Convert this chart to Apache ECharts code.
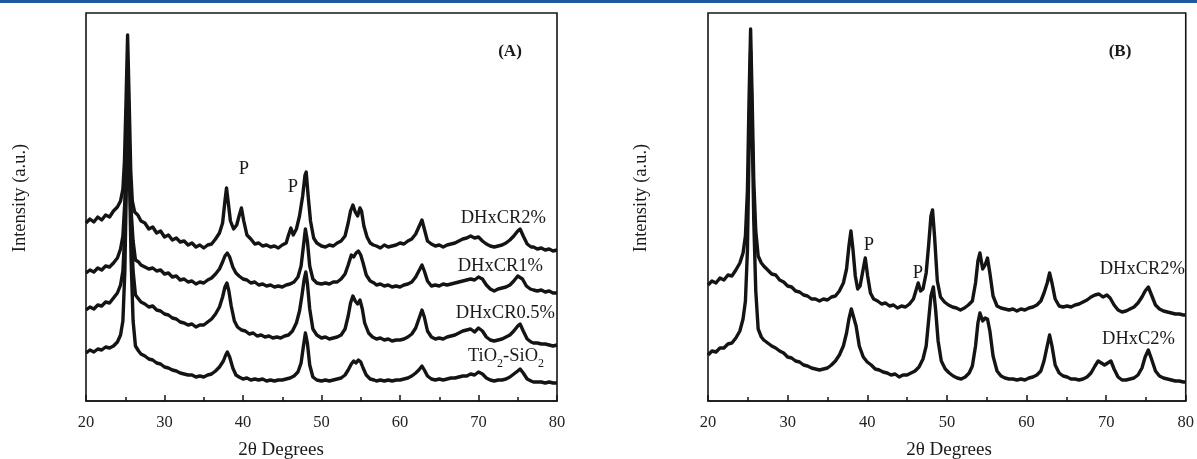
<!DOCTYPE html>
<html>
<head>
<meta charset="utf-8">
<script src="https://cdn.jsdelivr.net/npm/echarts@6/dist/echarts.min.js"></script>
<style>
html,body{margin:0;padding:0;background:#fff;}
#chart{width:1197px;height:459px;}
</style>
</head>
<body>
<div id="chart"></div>
<script>
// ---- data: [2theta (deg), intensity (a.u.)] ----
const xMin = 20, xMax = 80, xStep = 10;
const xTickLabels = [20, 30, 40, 50, 60, 70, 80];

const a_DHxCR2 = [[20,178],[20.5,182],[21,179],[21.5,184],[22,181],[22.5,186],[23,184],[23.5,190],[24,194],[24.4,200],[24.7,212],[24.9,240],[25.1,300],[25.3,366],[25.5,300],[25.7,230],[25.9,200],[26.2,189],[26.6,186],[27,180],[27.5,178],[28,172],[28.5,174],[29,168],[29.5,170],[30,164],[30.5,166],[31,161],[31.5,163],[32,159],[32.5,160],[33,156],[33.5,158],[34,154],[34.5,156],[35,153],[35.5,156],[36,157],[36.5,162],[37,168],[37.4,178],[37.7,200],[37.9,213],[38.1,200],[38.4,180],[38.8,172],[39.2,176],[39.5,185],[39.8,193],[40.1,180],[40.5,166],[41,162],[41.5,157],[42,158],[42.5,155],[43,156],[43.5,154],[44,155],[44.5,153],[45,156],[45.5,158],[45.8,166],[46.1,173],[46.4,166],[46.8,172],[47.2,185],[47.6,205],[47.9,226],[48.05,229],[48.3,205],[48.6,180],[49,163],[49.4,158],[50,155],[50.5,154],[51,156],[51.5,155],[52,158],[52.5,160],[53,165],[53.4,178],[53.7,190],[54,196],[54.3,189],[54.6,185],[54.9,193],[55.1,190],[55.4,175],[55.8,164],[56.2,158],[56.6,156],[57,155],[57.5,153],[58,156],[58.5,154],[59,155],[59.5,156],[60,158],[60.5,157],[61,160],[61.5,162],[62,167],[62.4,174],[62.8,181],[63.1,172],[63.5,160],[64,157],[64.5,155],[65,156],[65.5,154],[66,156],[66.5,157],[67,158],[67.5,160],[68,162],[68.5,163],[69,165],[69.5,163],[70,164],[70.5,160],[71,157],[71.5,155],[72,154],[72.5,155],[73,156],[73.5,158],[74,161],[74.5,165],[75,170],[75.3,172],[75.7,165],[76.2,157],[76.7,154],[77,154],[77.5,152],[78,153],[78.5,151],[79,152],[79.5,150],[80,151]];

const a_DHxCR1 = [[20,128],[20.5,131],[21,129],[21.5,133],[22,131],[22.5,135],[23,134],[23.5,138],[24,143],[24.4,152],[24.7,165],[24.95,200],[25.15,260],[25.35,300],[25.55,250],[25.75,190],[26,160],[26.3,141],[26.7,139],[27,136],[27.5,134],[28,132],[28.5,133],[29,130],[29.5,131],[30,127],[30.5,128],[31,124],[31.5,125],[32,121],[32.5,122],[33,119],[33.5,120],[34,117],[34.5,119],[35,118],[35.5,121],[36,123],[36.5,127],[37,132],[37.4,139],[37.7,145],[38,148],[38.3,144],[38.7,134],[39.1,128],[39.5,125],[40,122],[40.5,121],[41,118],[41.5,119],[42,116],[42.5,117],[43,115],[43.5,116],[44,114],[44.5,115],[45,114],[45.5,116],[46,117],[46.5,119],[47,124],[47.4,135],[47.7,155],[47.95,172],[48.2,160],[48.5,135],[48.9,122],[49.4,118],[50,117],[50.5,118],[51,117],[51.5,119],[52,119],[52.5,122],[53,127],[53.4,136],[53.8,146],[54.1,144],[54.4,148],[54.7,150],[55,146],[55.3,138],[55.7,126],[56.2,120],[56.7,118],[57,116],[57.5,117],[58,115],[58.5,116],[59,114],[59.5,115],[60,114],[60.5,116],[61,117],[61.5,119],[62,124],[62.4,130],[62.8,136],[63.1,130],[63.5,120],[64,115],[64.5,116],[65,115],[65.5,117],[66,116],[66.5,117],[67,118],[67.5,119],[68,120],[68.5,121],[69,122],[69.5,121],[70,124],[70.5,122],[71,116],[71.5,112],[72,110],[72.5,112],[73,113],[73.5,114],[74,116],[74.5,120],[75,125],[75.2,127],[75.6,122],[76.1,115],[76.6,112],[77,111],[77.5,110],[78,111],[78.5,109],[79,110],[79.5,108],[80,108]];

const a_DHxCR05 = [[20,91],[20.5,94],[21,92],[21.5,96],[22,95],[22.5,99],[23,98],[23.5,103],[24,108],[24.4,116],[24.7,130],[24.95,170],[25.15,250],[25.35,310],[25.55,240],[25.75,170],[26,130],[26.3,106],[26.7,102],[27,99],[27.5,97],[28,94],[28.5,95],[29,91],[29.5,90],[30,87],[30.5,86],[31,83],[31.5,82],[32,79],[32.5,78],[33,76],[33.5,77],[34,74],[34.5,76],[35,76],[35.5,79],[36,82],[36.5,87],[37,94],[37.4,104],[37.7,114],[37.95,118],[38.2,110],[38.5,95],[38.9,80],[39.3,74],[39.8,71],[40.3,70],[40.8,67],[41.3,68],[41.8,65],[42.3,66],[42.8,64],[43.3,65],[43.8,63],[44.3,64],[44.8,63],[45.3,65],[45.8,66],[46.3,70],[46.8,78],[47.2,90],[47.5,105],[47.8,122],[48,129],[48.2,118],[48.5,92],[48.9,72],[49.4,66],[50,63],[50.5,64],[51,62],[51.5,63],[52,64],[52.5,66],[53,72],[53.4,85],[53.7,98],[54,105],[54.3,100],[54.6,97],[54.9,101],[55.2,92],[55.5,78],[56,68],[56.5,64],[57,62],[57.5,63],[58,61],[58.5,62],[59,60],[59.5,61],[60,61],[60.5,62],[61,64],[61.5,67],[62,73],[62.4,82],[62.8,91],[63.1,84],[63.5,70],[64,64],[64.5,62],[65,63],[65.5,62],[66,64],[66.5,65],[67,66],[67.5,68],[68,70],[68.5,71],[69,72],[69.5,69],[70,73],[70.5,70],[71,64],[71.5,61],[72,60],[72.5,61],[73,62],[73.5,64],[74,66],[74.5,70],[75,75],[75.3,77],[75.7,70],[76.2,62],[76.7,59],[77,58],[77.5,58],[78,57],[78.5,57],[79,56],[79.5,55],[80,56]];

const a_TiO2SiO2 = [[20,48],[20.5,51],[21,49],[21.5,52],[22,51],[22.5,54],[23,53],[23.5,55],[24,59],[24.4,66],[24.7,80],[24.95,130],[25.15,220],[25.35,290],[25.55,220],[25.75,140],[26,80],[26.3,55],[26.7,50],[27,47],[27.5,45],[28,42],[28.5,41],[29,38],[29.5,37],[30,34],[30.5,33],[31,31],[31.5,30],[32,28],[32.5,27],[33,26],[33.5,26],[34,24],[34.5,25],[35,24],[35.5,26],[36,27],[36.5,30],[37,34],[37.5,40],[37.8,46],[38,49],[38.3,44],[38.7,33],[39.1,26],[39.5,24],[40,22],[40.5,23],[41,21],[41.5,22],[42,21],[42.5,22],[43,20],[43.5,21],[44,20],[44.5,21],[45,21],[45.5,22],[46,23],[46.5,25],[47,29],[47.4,38],[47.7,55],[47.95,68],[48.2,58],[48.5,36],[48.9,24],[49.4,21],[50,20],[50.5,21],[51,20],[51.5,21],[52,22],[52.5,23],[53,26],[53.4,31],[53.8,37],[54.1,40],[54.4,38],[54.7,41],[55,39],[55.3,33],[55.7,26],[56.2,22],[56.7,21],[57,20],[57.5,21],[58,20],[58.5,21],[59,20],[59.5,21],[60,21],[60.5,22],[61,23],[61.5,25],[62,28],[62.4,31],[62.8,35],[63.1,31],[63.5,25],[64,22],[64.5,21],[65,22],[65.5,21],[66,22],[66.5,23],[67,23],[67.5,24],[68,25],[68.5,25],[69,27],[69.5,26],[70,29],[70.5,27],[71,23],[71.5,21],[72,20],[72.5,21],[73,21],[73.5,22],[74,24],[74.5,27],[75,30],[75.3,32],[75.7,28],[76.2,22],[76.7,20],[77,19],[77.5,19],[78,19],[78.5,18],[79,19],[79.5,18],[80,18]];

const b_DHxCR2 = [[20,116],[20.5,120],[21,118],[21.5,123],[22,121],[22.5,126],[23,125],[23.5,131],[24,138],[24.4,148],[24.7,165],[24.95,210],[25.15,300],[25.35,372],[25.55,300],[25.75,220],[26,170],[26.3,145],[26.7,138],[27,135],[27.5,131],[28,127],[28.5,126],[29,121],[29.5,119],[30,115],[30.5,114],[31,110],[31.5,109],[32,106],[32.5,105],[33,102],[33.5,102],[34,100],[34.5,102],[35,101],[35.5,104],[36,105],[36.5,110],[37,118],[37.4,132],[37.7,155],[37.95,170],[38.2,152],[38.5,125],[38.8,112],[39.1,115],[39.4,128],[39.75,143],[40.05,125],[40.4,108],[40.8,102],[41.3,100],[41.8,97],[42.3,98],[42.8,95],[43.3,96],[43.8,93],[44.3,95],[44.8,94],[45.3,97],[45.8,102],[46.1,110],[46.4,118],[46.7,110],[47,112],[47.4,128],[47.7,155],[48,185],[48.2,191],[48.45,165],[48.8,120],[49.2,104],[49.7,99],[50.2,96],[50.7,94],[51.2,93],[51.7,91],[52.2,93],[52.7,96],[53.2,100],[53.6,118],[53.9,140],[54.15,148],[54.5,132],[54.8,136],[55.1,143],[55.4,128],[55.8,105],[56.3,95],[56.8,93],[57.3,92],[57.8,91],[58.3,92],[58.8,90],[59.3,92],[59.8,91],[60.3,93],[60.8,94],[61.3,96],[61.8,100],[62.2,108],[62.6,118],[62.9,128],[63.2,118],[63.6,102],[64.1,95],[64.6,94],[65.1,95],[65.6,94],[66.1,96],[66.6,97],[67.1,99],[67.6,101],[68.1,104],[68.6,106],[69.1,107],[69.6,104],[70.1,106],[70.5,103],[71,96],[71.5,91],[72,89],[72.5,90],[73,92],[73.5,94],[74,98],[74.5,104],[74.9,110],[75.3,114],[75.7,106],[76.2,96],[76.7,92],[77.2,90],[77.7,89],[78.2,88],[78.7,87],[79.2,87],[79.7,86],[80,86]];

const b_DHxC2 = [[20,46],[20.5,50],[21,49],[21.5,53],[22,53],[22.5,57],[23,58],[23.5,63],[24,70],[24.4,82],[24.7,100],[24.95,150],[25.15,250],[25.35,350],[25.55,270],[25.75,180],[26,110],[26.3,72],[26.7,64],[27,61],[27.5,58],[28,55],[28.5,53],[29,50],[29.5,48],[30,44],[30.5,43],[31,40],[31.5,39],[32,36],[32.5,35],[33,33],[33.5,32],[34,31],[34.5,32],[35,33],[35.5,36],[36,40],[36.5,46],[37,55],[37.4,68],[37.7,82],[38,92],[38.25,94],[38.6,75],[39,55],[39.5,44],[40,39],[40.5,36],[41,32],[41.5,31],[42,29],[42.5,28],[43,26],[43.5,27],[44,24],[44.5,26],[45,26],[45.5,28],[46,30],[46.5,34],[47,42],[47.4,55],[47.7,80],[48,105],[48.3,114],[48.6,90],[48.9,60],[49.3,40],[49.8,32],[50.3,28],[50.8,25],[51.3,23],[51.8,22],[52.3,24],[52.8,28],[53.2,35],[53.6,55],[53.9,78],[54.15,88],[54.5,80],[54.8,83],[55.1,82],[55.4,70],[55.8,45],[56.3,30],[56.8,25],[57.3,23],[57.8,22],[58.3,22],[58.8,21],[59.3,22],[59.8,21],[60.3,23],[60.8,24],[61.3,26],[61.8,30],[62.2,40],[62.6,55],[62.9,66],[63.2,55],[63.6,36],[64.1,28],[64.6,25],[65.1,24],[65.6,22],[66.1,22],[66.6,21],[67.1,22],[67.6,24],[68.1,28],[68.6,35],[69,40],[69.4,38],[69.8,36],[70.2,38],[70.6,40],[71,32],[71.5,24],[72,21],[72.5,21],[73,22],[73.5,23],[74,26],[74.5,33],[74.9,44],[75.3,51],[75.7,42],[76.2,30],[76.7,25],[77.2,23],[77.7,22],[78.2,21],[78.7,20],[79.2,20],[79.7,19],[80,19]];

const seriesA = [a_DHxCR2, a_DHxCR1, a_DHxCR05, a_TiO2SiO2];
const seriesB = [b_DHxCR2, b_DHxC2];
const namesA = ['DHxCR2%', 'DHxCR1%', 'DHxCR0.5%', 'TiO2-SiO2'];
const namesB = ['DHxCR2%', 'DHxC2%'];

// ---- chart ----
const SERIF = '"Liberation Serif","Times New Roman",serif';
const INK = '#141414';
const LBL = 18.5;
const chart = echarts.init(document.getElementById('chart'), null, {renderer: 'canvas'});

function xAxisCfg(gi) {
  return {
    type: 'value', gridIndex: gi, min: xMin, max: xMax, interval: xStep,
    axisLine: {show: true, onZero: false, lineStyle: {color: INK, width: 1.6}},
    axisTick: {show: true, inside: true, length: 6, lineStyle: {color: INK, width: 1.5}},
    minorTick: {show: true, splitNumber: 2, length: 4, lineStyle: {color: INK, width: 1.5}},
    splitLine: {show: false},
    axisLabel: {show: true, margin: 13, color: '#222', fontSize: 16.5, fontFamily: SERIF,
      formatter: v => xTickLabels.includes(v) ? String(v) : ''}
  };
}
function yAxisCfg(gi) {
  return {type: 'value', gridIndex: gi, min: 0, max: 388, show: false};
}
function lineSeries(data, gi, name) {
  return {
    type: 'line', name: name, xAxisIndex: gi, yAxisIndex: gi, data: data,
    showSymbol: false, symbol: 'none', smooth: false,
    lineStyle: {color: INK, width: 3.4, join: 'round'}
  };
}

const series = [];
seriesA.forEach((d, i) => series.push(lineSeries(d, 0, namesA[i])));
seriesB.forEach((d, i) => series.push(lineSeries(d, 1, namesB[i])));

function txt(x, y, text, opts) {
  opts = opts || {};
  return {
    type: 'text', x: x, y: y, rotation: opts.rotation || 0, z: 100,
    style: {
      text: text, fill: '#1a1a1a', font: (opts.weight || 'normal') + ' ' + (opts.size || LBL) + 'px ' + SERIF,
      textAlign: opts.align || 'center', textVerticalAlign: opts.valign || 'middle'
    }
  };
}

// TiO2-SiO2 label with real subscripts, laid out by measured widths
const mctx = document.createElement('canvas').getContext('2d');
function w(s, size) { mctx.font = size + 'px ' + SERIF; return mctx.measureText(s).width; }
function chemLabel(rightX, baseY, parts) {
  const SUB = 12;
  let total = 0;
  parts.forEach(p => total += w(p[0], p[1] ? SUB : LBL));
  let x = rightX - total;
  const out = [];
  parts.forEach(p => {
    const size = p[1] ? SUB : LBL;
    out.push(txt(x, p[1] ? baseY + 4 : baseY, p[0], {align: 'left', valign: 'bottom', size: size}));
    x += w(p[0], size);
  });
  return out;
}

const graphic = [
  {type: 'rect', shape: {x: 0, y: 0, width: 1197, height: 3}, style: {fill: '#1f5a9e'}, z: 100},
  // panel A
  txt(510, 52, '(A)', {weight: 'bold', size: 17}),
  txt(244, 169, 'P'),
  txt(293, 187, 'P'),
  txt(546, 218, namesA[0], {align: 'right'}),
  txt(543, 266, namesA[1], {align: 'right'}),
  txt(555, 313, namesA[2], {align: 'right'}),
  ...chemLabel(544, 366, [['TiO', false], ['2', true], ['-SiO', false], ['2', true]]),
  txt(20, 198, 'Intensity (a.u.)', {rotation: Math.PI / 2}),
  txt(281, 450, '2θ Degrees', {size: 19}),
  // panel B
  txt(1120, 52, '(B)', {weight: 'bold', size: 17}),
  txt(869, 245, 'P'),
  txt(918, 273, 'P'),
  txt(1185, 269, namesB[0], {align: 'right'}),
  txt(1175, 339, namesB[1], {align: 'right'}),
  txt(641, 198, 'Intensity (a.u.)', {rotation: Math.PI / 2}),
  txt(949, 450, '2θ Degrees', {size: 19})
];

chart.setOption({
  animation: false,
  backgroundColor: '#ffffff',
  grid: [
    {left: 86, top: 13, width: 471, height: 388, show: true, borderColor: INK, borderWidth: 1.6, backgroundColor: 'transparent'},
    {left: 708, top: 13, width: 479, height: 388, show: true, borderColor: INK, borderWidth: 1.6, backgroundColor: 'transparent'}
  ],
  xAxis: [xAxisCfg(0), xAxisCfg(1)],
  yAxis: [yAxisCfg(0), yAxisCfg(1)],
  series: series,
  graphic: graphic
});
</script>
</body>
</html>
